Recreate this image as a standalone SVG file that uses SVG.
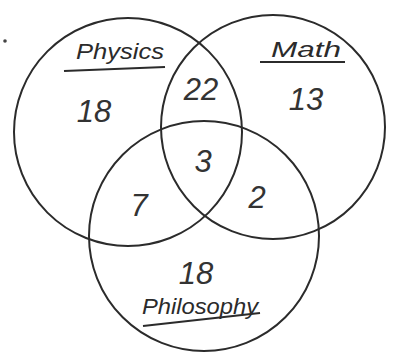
<svg xmlns="http://www.w3.org/2000/svg" width="393" height="360" viewBox="0 0 393 360">
<style>
.c{fill:none;stroke:#2b2b2b;stroke-width:2}
.lbl{font-family:"Liberation Sans",Arial,sans-serif;font-style:italic;fill:#2b2b2b;font-size:22px}
.num{font-family:"Liberation Sans",Arial,sans-serif;font-style:italic;fill:#333;font-size:31px}
.u{stroke:#2b2b2b;stroke-width:2;fill:none}
</style>
<rect width="393" height="360" fill="#ffffff"/>
<circle cx="5" cy="41" r="1.8" fill="#444"/>
<g id="physics">
<circle class="c" cx="128" cy="132" r="114"/>
<text class="lbl" x="120" y="59" text-anchor="middle" textLength="88" lengthAdjust="spacingAndGlyphs">Physics</text>
<path class="u" d="M64 71 L165 67"/>
<text class="num" x="94" y="122" text-anchor="middle">18</text>
</g>
<g id="math">
<circle class="c" cx="273" cy="127" r="112"/>
<text class="lbl" x="306" y="57" text-anchor="middle" textLength="70" lengthAdjust="spacingAndGlyphs">Math</text>
<path class="u" d="M260 62 L345 62"/>
<text class="num" x="306" y="110" text-anchor="middle">13</text>
</g>
<g id="philosophy">
<circle class="c" cx="204" cy="236" r="115"/>
<text class="num" x="196" y="284" text-anchor="middle">18</text>
<text class="lbl" x="200" y="314" text-anchor="middle" textLength="116" lengthAdjust="spacingAndGlyphs">Philosophy</text>
<path class="u" d="M143 326 L260 313"/>
</g>
<g id="regions">
<text class="num" x="201" y="100" text-anchor="middle" font-size="27">22</text>
<text class="num" x="203" y="172" text-anchor="middle">3</text>
<text class="num" x="139" y="216" text-anchor="middle">7</text>
<text class="num" x="257" y="208" text-anchor="middle">2</text>
</g>
</svg>
